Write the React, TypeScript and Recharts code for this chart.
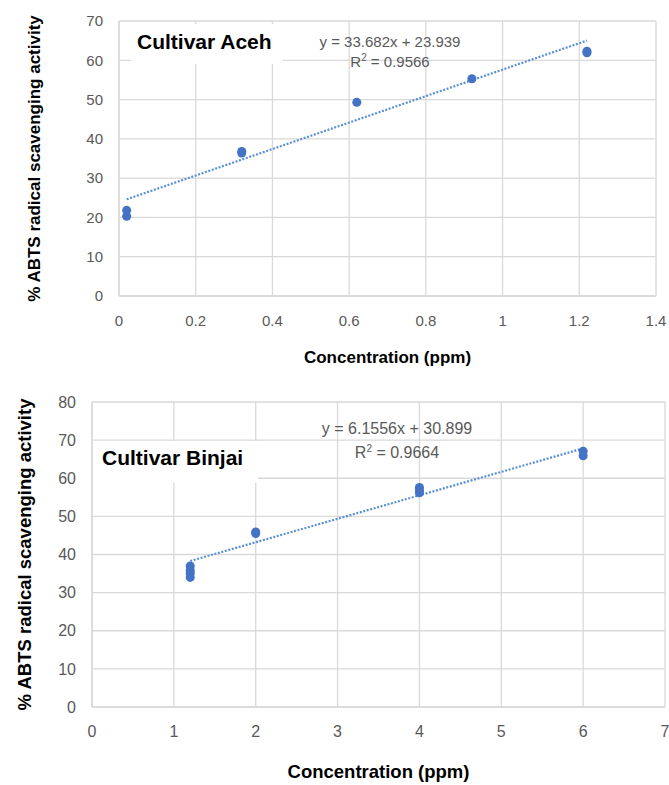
import { ScatterChart, Scatter, XAxis, YAxis, CartesianGrid } from "recharts";

// Cultivar Aceh
const acehX = [0.02, 0.02, 0.32, 0.32, 0.62, 0.92, 1.22, 1.22];
const acehY = [21.8, 20.3, 36.8, 36.4, 49.3, 55.3, 62.3, 61.9];
const acehTrendX = [0.02, 1.22];
const acehTrendY = [24.61, 65.03];
const acehXTicks = [0, 0.2, 0.4, 0.6, 0.8, 1, 1.2, 1.4];
const acehYTicks = [0, 10, 20, 30, 40, 50, 60, 70];

// Cultivar Binjai
const binjaiX = [1.2, 1.2, 1.2, 1.2, 2, 2, 4, 4, 4, 6, 6];
const binjaiY = [37.0, 35.9, 35.0, 34.0, 45.9, 45.5, 57.6, 56.9, 56.2, 67.1, 65.9];
const binjaiTrendX = [1.2, 6];
const binjaiTrendY = [38.29, 67.83];
const binjaiXTicks = [0, 1, 2, 3, 4, 5, 6, 7];
const binjaiYTicks = [0, 10, 20, 30, 40, 50, 60, 70, 80];

const xTitle = "Concentration (ppm)";
const yTitle = "% ABTS radical scavenging activity";

const FONT = "'Liberation Sans', Arial, sans-serif";
const GRID = "#d9d9d9";
const DOT = "#4472c4";
const TREND = "#5b8fd3";

const zip = (xs: number[], ys: number[]) => xs.map((x, i) => ({ x, y: ys[i] }));

interface PanelProps {
  xs: number[];
  ys: number[];
  tx: number[];
  ty: number[];
  xTicks: number[];
  yTicks: number[];
  height: number;
  margin: { top: number; right: number; bottom: number; left: number };
  yAxisWidth: number;
  xAxisHeight: number;
  tickSize: number;
  titleSize: number;
  xTitleOffset: number;
  yTitleOffset: number;
}

const Panel = (p: PanelProps) => {
  const tickStyle = { fontFamily: FONT, fontSize: p.tickSize, fill: "#595959" };
  const titleStyle = { fontFamily: FONT, fontSize: p.titleSize, fontWeight: 700, fill: "#000" };
  return (
    <ScatterChart width={669} height={p.height} margin={p.margin}>
      <CartesianGrid stroke={GRID} strokeWidth={1.3} />
      <XAxis
        type="number"
        dataKey="x"
        domain={[p.xTicks[0], p.xTicks[p.xTicks.length - 1]]}
        ticks={p.xTicks}
        interval={0}
        height={p.xAxisHeight}
        tickLine={false}
        tickSize={0}
        tickMargin={19}
        axisLine={{ stroke: GRID, strokeWidth: 1.3 }}
        tick={tickStyle}
        label={{ value: xTitle, position: "insideBottom", offset: p.xTitleOffset, style: titleStyle }}
      />
      <YAxis
        type="number"
        dataKey="y"
        domain={[p.yTicks[0], p.yTicks[p.yTicks.length - 1]]}
        ticks={p.yTicks}
        interval={0}
        width={p.yAxisWidth}
        tickLine={false}
        tickSize={0}
        tickMargin={16}
        axisLine={{ stroke: GRID, strokeWidth: 1.3 }}
        tick={tickStyle}
        label={{
          value: yTitle,
          angle: -90,
          position: "insideLeft",
          offset: p.yTitleOffset,
          style: { ...titleStyle, textAnchor: "middle" },
        }}
      />
      <Scatter
        data={zip(p.tx, p.ty)}
        line={{ stroke: TREND, strokeWidth: 2.2, strokeDasharray: "2 1.6" }}
        shape={() => <g />}
        isAnimationActive={false}
      />
      <Scatter data={zip(p.xs, p.ys)} fill={DOT} shape="circle" isAnimationActive={false} />
    </ScatterChart>
  );
};

const abs = (left: number, top: number): React.CSSProperties => ({
  position: "absolute",
  left,
  top,
  whiteSpace: "nowrap",
});

export default function App() {
  return (
    <div style={{ position: "absolute", left: 0, top: 0, width: 669, height: 785, background: "#fff", overflow: "hidden" }}>
      <div style={abs(0, 0)}>
        <Panel
          xs={acehX}
          ys={acehY}
          tx={acehTrendX}
          ty={acehTrendY}
          xTicks={acehXTicks}
          yTicks={acehYTicks}
          height={380}
          margin={{ top: 21, right: 13, bottom: 14, left: 0 }}
          yAxisWidth={119}
          xAxisHeight={70}
          tickSize={15}
          titleSize={17}
          xTitleOffset={3}
          yTitleOffset={34}
        />
      </div>
      <div style={abs(0, 380)}>
        <Panel
          xs={binjaiX}
          ys={binjaiY}
          tx={binjaiTrendX}
          ty={binjaiTrendY}
          xTicks={binjaiXTicks}
          yTicks={binjaiYTicks}
          height={405}
          margin={{ top: 22, right: 4, bottom: 0, left: 0 }}
          yAxisWidth={92}
          xAxisHeight={78}
          tickSize={16}
          titleSize={18.5}
          xTitleOffset={7}
          yTitleOffset={24}
        />
      </div>

      {/* Aceh labels */}
      <div style={{ ...abs(131, 24), width: 152, height: 40, background: "#fff" }} />
      <div style={{ ...abs(137, 30), fontFamily: FONT, fontWeight: 700, fontSize: 21, color: "#000" }}>Cultivar Aceh</div>
      <div style={{ ...abs(300, 32), width: 180, textAlign: "center", fontFamily: FONT, fontSize: 15, color: "#595959", lineHeight: "20px" }}>
        y = 33.682x + 23.939
        <br />
        R<sup style={{ fontSize: 10, lineHeight: 0 }}>2</sup> = 0.9566
      </div>

      {/* Binjai labels */}
      <div style={{ ...abs(93, 441), width: 165, height: 42, background: "#fff" }} />
      <div style={{ ...abs(102, 446), fontFamily: FONT, fontWeight: 700, fontSize: 21, color: "#000" }}>Cultivar Binjai</div>
      <div style={{ ...abs(307, 417), width: 180, textAlign: "center", fontFamily: FONT, fontSize: 16, color: "#595959", lineHeight: "24px" }}>
        y = 6.1556x + 30.899
        <br />
        R<sup style={{ fontSize: 10, lineHeight: 0 }}>2</sup> = 0.9664
      </div>
    </div>
  );
}
